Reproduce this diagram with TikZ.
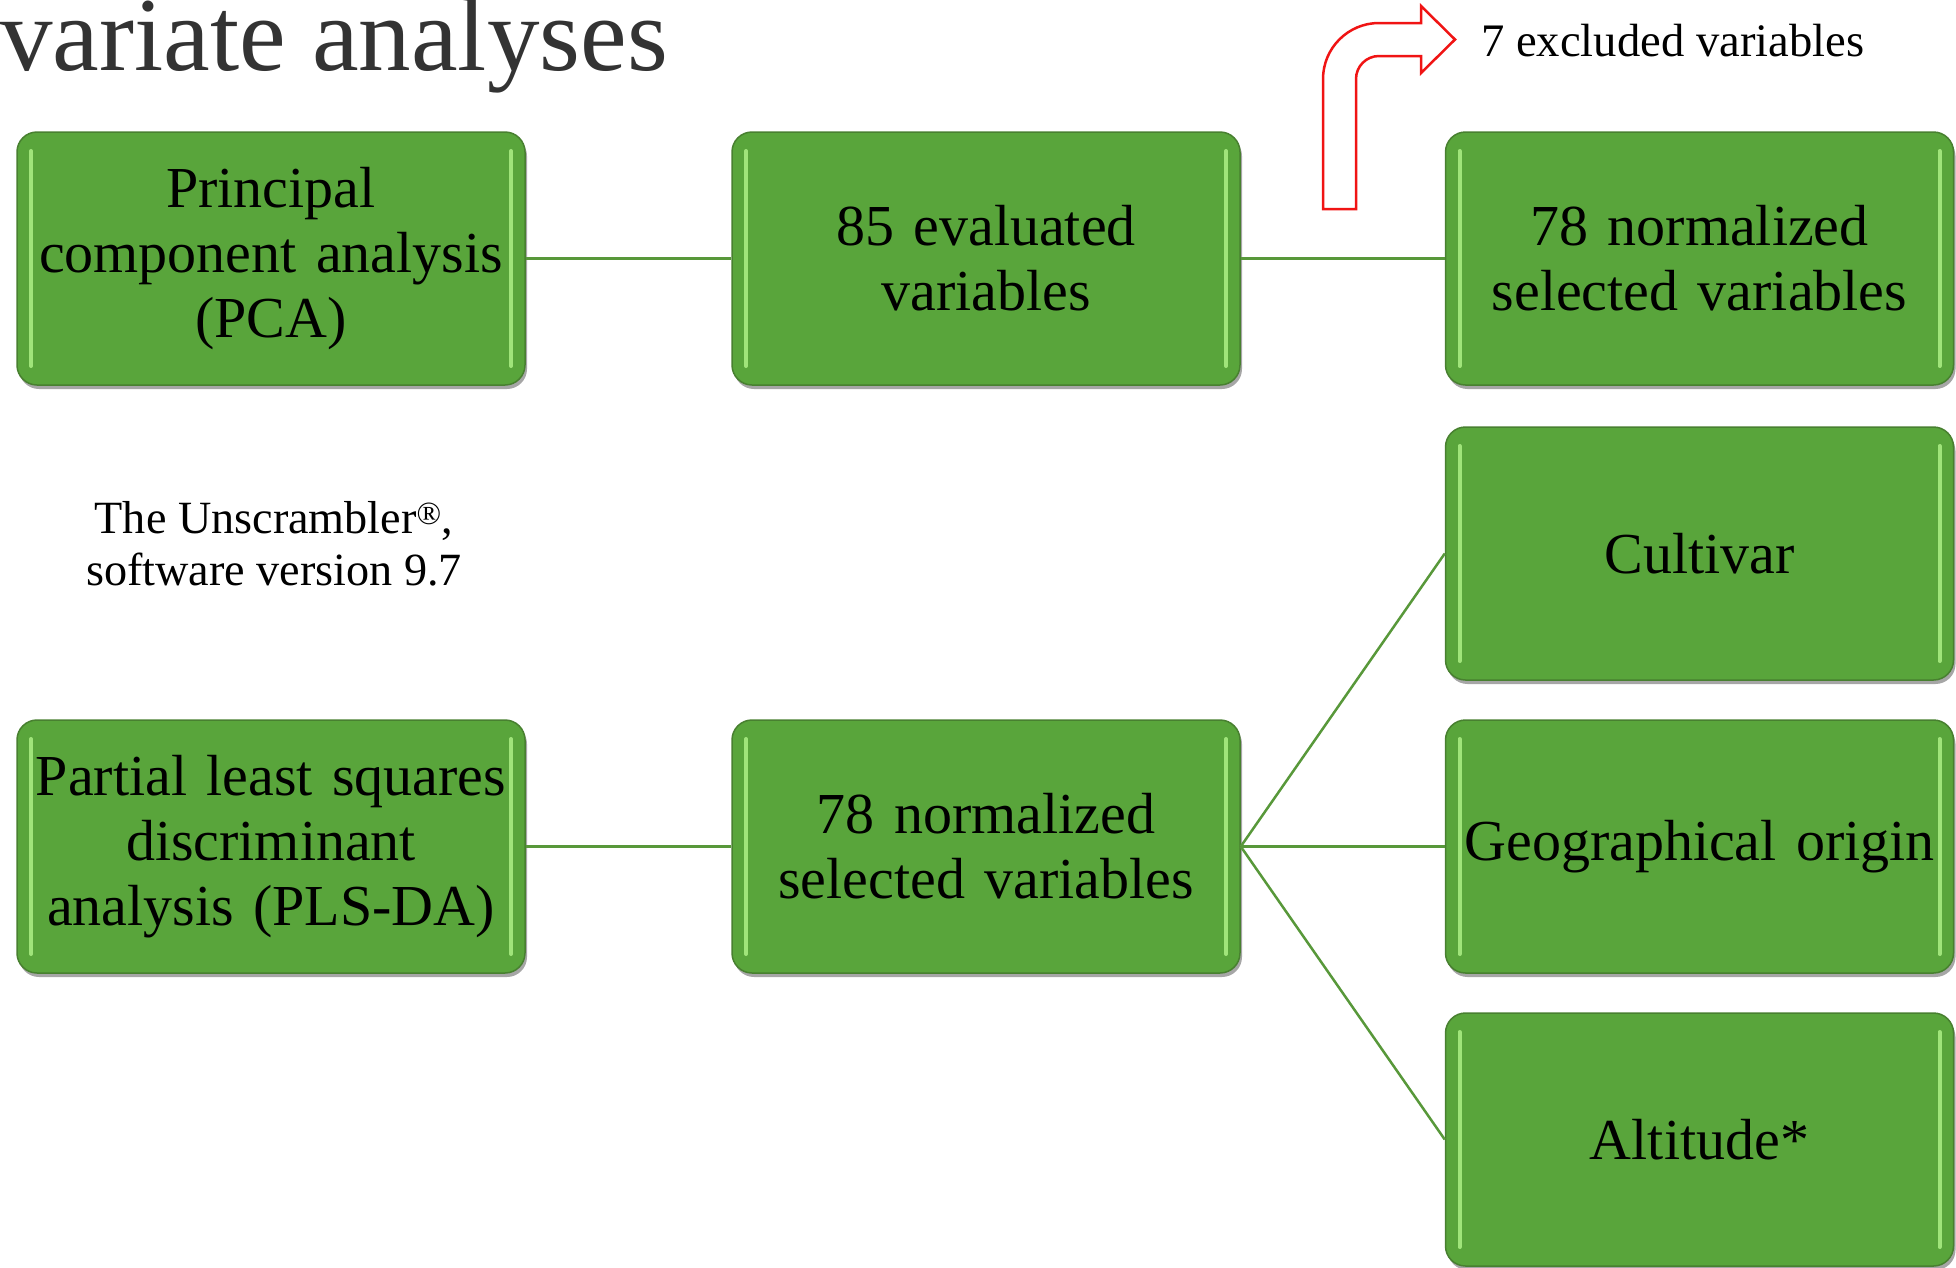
\documentclass[tikz,border=0pt]{standalone}
\usepackage{fontspec}
\setmainfont{Liberation Serif}
\usetikzlibrary{shadows}
\definecolor{boxgreen}{RGB}{89,165,59}
\definecolor{boxedge}{RGB}{72,128,48}
\definecolor{hilite}{RGB}{160,228,122}
\definecolor{linkgreen}{RGB}{88,152,58}
\definecolor{arrowred}{RGB}{240,20,20}
\definecolor{titlegray}{RGB}{51,51,51}
\tikzset{
 gbox/.style={draw=boxedge, line width=1.5pt, fill=boxgreen, rounded corners=20pt,
   minimum width=508pt, minimum height=253pt, text width=500pt, align=center,
   inner sep=0pt, font=\fontsize{58}{65}\selectfont,
   drop shadow={shadow xshift=2pt, shadow yshift=-4pt, opacity=0.35, fill=black},
   path picture={
     \draw[hilite, line width=4pt, line cap=round]
       ([xshift=14pt,yshift=-19pt]path picture bounding box.north west) --
       ([xshift=14pt,yshift=19pt]path picture bounding box.south west);
     \draw[hilite, line width=4pt, line cap=round]
       ([xshift=-14pt,yshift=-19pt]path picture bounding box.north east) --
       ([xshift=-14pt,yshift=19pt]path picture bounding box.south east);
   }},
 link/.style={draw=linkgreen, line width=2.5pt},
}
\begin{document}
\begin{tikzpicture}[x=1pt,y=1pt]
\useasboundingbox (0,0) rectangle (1956,-1267);
\node[font=\fontsize{105}{110}\selectfont, text=titlegray, anchor=base west, inner sep=0pt] (title) at (0,-70) {variate analyses};

\node[gbox] (pca)  at (271,-258.5)   {Principal\\component analysis\\(PCA)};
\node[gbox] (eval) at (986,-258.5)   {85 evaluated\\variables};
\node[gbox] (normt) at (1699.5,-258.5) {78 normalized\\selected variables};
\node[gbox] (cult) at (1699.5,-553.5) {Cultivar};
\node[gbox] (plsda) at (271,-846.5)  {Partial least squares\\discriminant\\analysis (PLS-DA)};
\node[gbox] (normb) at (986,-846.5)  {78 normalized\\selected variables};
\node[gbox] (geo)  at (1699.5,-846.5) {Geographical origin};
\node[gbox] (alt)  at (1699.5,-1139.5) {Altitude*};

\draw[link] (pca.east) -- (eval.west);
\draw[link] (eval.east) -- (normt.west);
\draw[link] (plsda.east) -- (normb.west);
\draw[link] (normb.east) -- (cult.west);
\draw[link] (normb.east) -- (geo.west);
\draw[link] (normb.east) -- (alt.west);

\node[font=\fontsize{46.2}{52}\selectfont, align=center, inner sep=0pt] (soft) at (274,-544)
  {The Unscrambler\textsuperscript{®},\\software version 9.7};
\node[font=\fontsize{46.6}{52}\selectfont, anchor=west, inner sep=0pt] (excl) at (1481,-41) {7 excluded variables};

\draw[arrowred, line width=2.5pt, fill=white, line join=miter]
  (1323,-209) -- (1323,-79) arc[start angle=180, end angle=90, radius=56]
  -- (1421,-23) -- (1421,-6) -- (1455,-39.5) -- (1421,-73) -- (1421,-56)
  -- (1379,-56) arc[start angle=90, end angle=180, radius=23]
  -- (1356,-209) -- cycle;
\end{tikzpicture}
\end{document}
